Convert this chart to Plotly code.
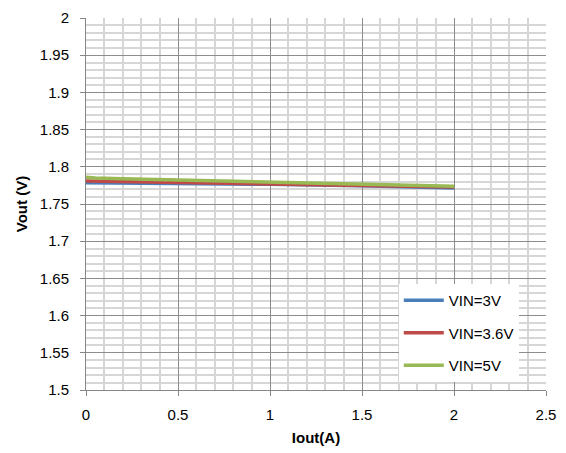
import plotly.graph_objects as go

iout = [0, 0.05, 0.2, 0.5, 1.0, 1.5, 2.0]
vin3 = [1.7785, 1.7784, 1.7782, 1.7777, 1.7765, 1.7745, 1.7715]
vin36 = [1.7810, 1.7808, 1.7805, 1.7795, 1.7775, 1.7755, 1.7730]
vin5 = [1.7860, 1.7850, 1.7840, 1.7825, 1.7800, 1.7775, 1.7740]

series = [("VIN=3V", vin3, "#4a7ebb"), ("VIN=3.6V", vin36, "#be4b48"), ("VIN=5V", vin5, "#98b954")]

fig = go.Figure()
for name, ys, col in series:
    fig.add_trace(go.Scatter(x=iout, y=ys, mode="lines", name=name, legendgroup=name,
                             line=dict(color=col, width=3.5)))

font = "Liberation Sans"
fig.update_layout(
    width=558, height=445,
    margin=dict(l=78, r=20, t=10, b=63),
    paper_bgcolor="white", plot_bgcolor="white",
    font=dict(family=font, size=15, color="black"),
    showlegend=True,
    legend=dict(x=0.68, y=0.285, xanchor="left", yanchor="top",
                bgcolor="white", borderwidth=0, font=dict(size=15),
                tracegroupgap=10, itemwidth=40),
    xaxis=dict(range=[0, 2.5], dtick=0.5, showgrid=True, gridcolor="#8c8c8c", gridwidth=1,
               minor=dict(dtick=0.1, showgrid=True, gridcolor="#d6d6d6", gridwidth=1.5),
               showline=True, linecolor="#868686", linewidth=1,
               ticks="outside", ticklen=5, tickcolor="#868686", automargin=False,
               zeroline=False, ticklabelstandoff=6, ticklabeloverflow="allow",
               title=dict(text="<b>Iout(A)</b>", font=dict(size=15), standoff=10)),
    yaxis=dict(range=[1.5, 2.0], dtick=0.05, showgrid=True, gridcolor="#8c8c8c", gridwidth=1,
               minor=dict(dtick=0.01, showgrid=True, gridcolor="#d6d6d6", gridwidth=1.5),
               showline=True, linecolor="#868686", linewidth=1,
               ticks="outside", ticklen=5, tickcolor="#868686", automargin=False,
               zeroline=False, tickformat="~g", ticklabelstandoff=8, ticklabeloverflow="allow",
               title=dict(text="<b>Vout (V)</b>", font=dict(size=15), standoff=8)),
)
fig.write_html("out.html")
